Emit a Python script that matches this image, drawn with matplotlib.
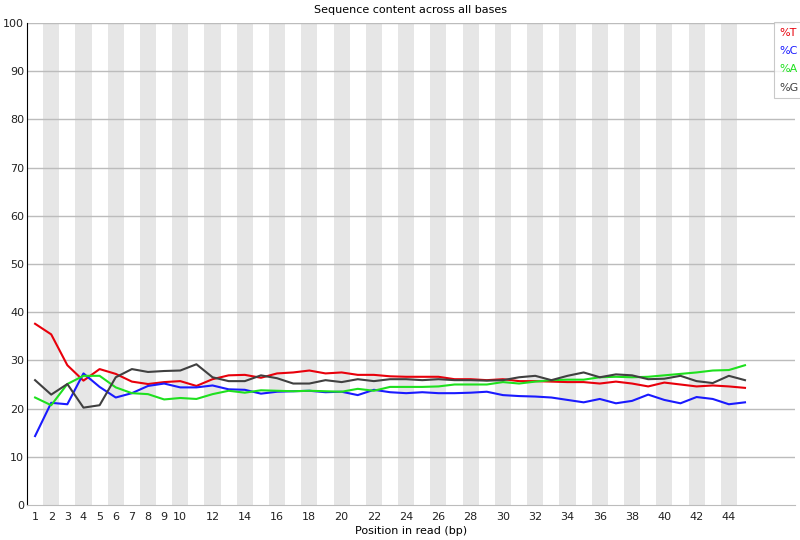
import numpy as np
import matplotlib.pyplot as plt

positions = np.arange(1, 46)

pct_t = [37.6, 35.4, 29.0, 25.8, 28.2, 27.2, 25.6, 25.1, 25.5, 25.7,
         24.7, 26.1, 26.9, 27.0, 26.4, 27.3, 27.5, 27.9, 27.3, 27.5,
         27.0, 27.0, 26.7, 26.6, 26.6, 26.6, 26.1, 26.1, 25.9, 26.1,
         25.7, 25.7, 25.6, 25.5, 25.5, 25.2, 25.6, 25.2, 24.6, 25.4,
         25.0, 24.6, 24.8, 24.6, 24.3]
pct_c = [14.3, 21.2, 20.9, 27.3, 24.5, 22.3, 23.2, 24.7, 25.2, 24.4,
         24.4, 24.8, 24.0, 23.9, 23.1, 23.5, 23.6, 23.7, 23.4, 23.5,
         22.8, 23.9, 23.4, 23.2, 23.4, 23.2, 23.2, 23.3, 23.5, 22.8,
         22.6, 22.5, 22.3, 21.8, 21.3, 22.0, 21.1, 21.6, 22.9, 21.8,
         21.1, 22.4, 22.0, 20.9, 21.3]
pct_a = [22.3, 20.7, 25.1, 26.8, 26.8, 24.4, 23.2, 23.0, 21.9, 22.2,
         22.0, 23.0, 23.7, 23.3, 23.8, 23.7, 23.6, 23.7, 23.6, 23.5,
         24.1, 23.7, 24.5, 24.5, 24.5, 24.6, 25.0, 25.0, 25.0, 25.5,
         25.2, 25.6, 25.9, 26.0, 26.0, 26.5, 26.6, 26.5, 26.6, 26.9,
         27.2, 27.5, 27.9, 28.0, 29.0]
pct_g = [25.9, 22.9, 25.1, 20.2, 20.7, 26.5, 28.2, 27.6, 27.8, 27.9,
         29.2, 26.5, 25.7, 25.7, 26.9, 26.3, 25.2, 25.2, 25.9, 25.5,
         26.1, 25.7, 26.1, 26.1, 25.9, 26.1, 25.9, 25.9, 25.8, 25.9,
         26.5, 26.8, 25.9, 26.8, 27.5, 26.5, 27.1, 26.9, 26.1, 26.2,
         26.8, 25.7, 25.3, 26.8, 25.9]

xtick_pos = list(range(1, 11)) + list(range(12, 45, 2))

fig = plt.figure(figsize=(8, 5.4), dpi=100)
ax = fig.add_axes([27/800, 35/540, 768/800, 482/540])

# alternating stripes
for p in positions:
    if p % 2 == 0:
        ax.axvspan(p - 0.5, p + 0.5, color='#e6e6e6', lw=0, zorder=0)

for y in range(10, 101, 10):
    ax.axhline(y, color='#bcbcbc', lw=1, zorder=1)

ax.plot(positions, pct_t, color='#e8000b', lw=1.5, label='%T', zorder=3)
ax.plot(positions, pct_c, color='#1a1aff', lw=1.5, label='%C', zorder=3)
ax.plot(positions, pct_a, color='#1ee01e', lw=1.5, label='%A', zorder=3)
ax.plot(positions, pct_g, color='#404040', lw=1.5, label='%G', zorder=3)

ax.set_xlim(0.5, 48.1)
ax.set_ylim(0, 100)
ax.set_xticks(xtick_pos)
ax.set_yticks(range(0, 101, 10))
ax.tick_params(length=0, labelsize=8, colors='#222222', pad=5)
ax.tick_params(axis='y', pad=2)
for s in ['top', 'right']:
    ax.spines[s].set_visible(False)
ax.spines['left'].set_color('black')
ax.spines['bottom'].set_color('#bcbcbc')

ax.set_title('Sequence content across all bases', fontsize=8, pad=7)
ax.set_xlabel('Position in read (bp)', fontsize=8, labelpad=3)

leg = ax.legend(loc='upper right', bbox_to_anchor=(804/800, 518/540),
                bbox_transform=fig.transFigure, handlelength=0,
                handletextpad=0, fontsize=8, frameon=True, fancybox=False,
                borderpad=0.5, labelspacing=0.75, borderaxespad=0,
                labelcolor=['#e8000b', '#1a1aff', '#1ee01e', '#404040'])
leg.get_frame().set_edgecolor('#bcbcbc')
leg.get_frame().set_linewidth(0.8)
for h in leg.legend_handles:
    h.set_visible(False)

plt.savefig('out.png')
